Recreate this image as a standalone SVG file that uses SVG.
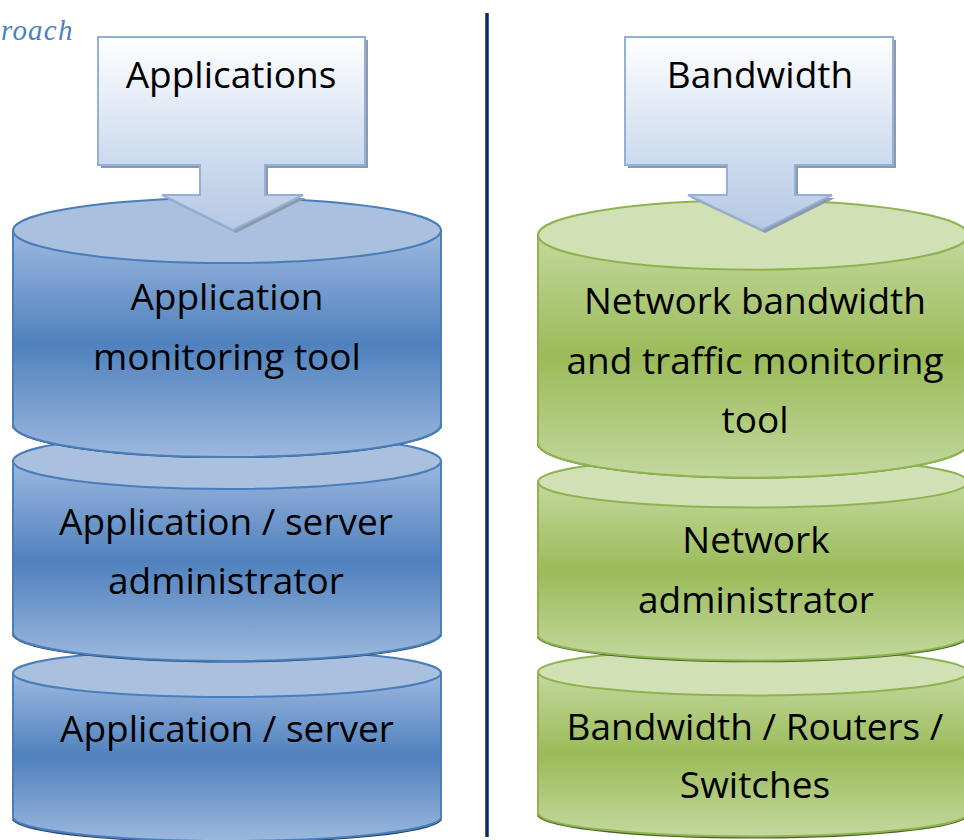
<svg xmlns="http://www.w3.org/2000/svg" width="964" height="840" viewBox="0 0 964 840">
<defs>
<linearGradient id="blueSide" x1="0" y1="0" x2="0" y2="1">
<stop offset="0" stop-color="#9db8e0"/>
<stop offset="0.5" stop-color="#4f81bd"/>
<stop offset="1" stop-color="#9cb8de"/>
</linearGradient>
<linearGradient id="greenSide" x1="0" y1="0" x2="0" y2="1">
<stop offset="0" stop-color="#c3d89d"/>
<stop offset="0.5" stop-color="#9bbb59"/>
<stop offset="1" stop-color="#c3d89e"/>
</linearGradient>
<linearGradient id="arrowFill" gradientUnits="userSpaceOnUse" x1="0" y1="37" x2="0" y2="230">
<stop offset="0" stop-color="#ffffff"/>
<stop offset="0.65" stop-color="#cbdaee"/>
<stop offset="1" stop-color="#b6c9e3"/>
</linearGradient>
</defs>
<style>
.txt{font-family:"Open Sans","Liberation Sans",sans-serif;font-size:37px;fill:#000;text-anchor:middle}
.bside{fill:url(#blueSide);stroke:#4a7ebb;stroke-width:2}
.btop{fill:#a9c0df;stroke:#4a7ebb;stroke-width:2}
.bshadow{fill:none;stroke:#24416a;stroke-width:3.5;stroke-linecap:round}
.gside{fill:url(#greenSide);stroke:#8db450;stroke-width:2}
.gtop{fill:#d2e1b5;stroke:#8db450;stroke-width:2}
.gshadow{fill:none;stroke:#4c6326;stroke-width:3.5;stroke-linecap:round}
.arrow{fill:url(#arrowFill);stroke:#93b0d6;stroke-width:2}
.ashadow{fill:#8e9aab}
</style>
<rect width="964" height="840" fill="#ffffff"/>
<text x="1" y="40" font-family="'Liberation Serif',serif" font-style="italic" font-size="29" letter-spacing="1.2" fill="#4f7fbf">roach</text>
<line x1="487" y1="13" x2="487" y2="837" stroke="#0f2662" stroke-width="3.5"/>

<g id="left-server">
<path class="bshadow" d="M14,819.5 A214,24 0 0 0 440,819.5"/>
<path class="bside" d="M13,673 V817 A214,24 0 0 0 441,817 V673 Z"/>
<ellipse class="btop" cx="227" cy="673" rx="214" ry="24"/>
<text class="txt" x="227" y="742">Application / server</text>
</g>
<g id="left-admin">
<path class="bshadow" d="M14,635.5 A214,28 0 0 0 440,635.5"/>
<path class="bside" d="M13,461 V633 A214,28 0 0 0 441,633 V461 Z"/>
<ellipse class="btop" cx="227" cy="461" rx="214" ry="28"/>
<text class="txt" x="226" y="535">Application / server</text>
<text class="txt" x="226" y="594">administrator</text>
</g>
<g id="left-tool">
<path class="bshadow" d="M14,427 A214,32.5 0 0 0 440,427"/>
<path class="bside" d="M13,230.5 V424.5 A214,32.5 0 0 0 441,424.5 V230.5 Z"/>
<ellipse class="btop" cx="227" cy="230.5" rx="214" ry="32.5"/>
<text class="txt" x="227" y="310">Application</text>
<text class="txt" x="227" y="370">monitoring tool</text>
</g>

<g id="right-devices">
<path class="gshadow" d="M539,815.5 A215,23.5 0 0 0 967,815.5"/>
<path class="gside" d="M538,672 V813 A215,23.5 0 0 0 968,813 V672 Z"/>
<ellipse class="gtop" cx="753" cy="672" rx="215" ry="23.5"/>
<text class="txt" x="755" y="740">Bandwidth / Routers /</text>
<text class="txt" x="755" y="798">Switches</text>
</g>
<g id="right-admin">
<path class="gshadow" d="M539,637.5 A215,25.5 0 0 0 967,637.5"/>
<path class="gside" d="M538,482 V635 A215,25.5 0 0 0 968,635 V482 Z"/>
<ellipse class="gtop" cx="753" cy="482" rx="215" ry="25.5"/>
<text class="txt" x="756" y="553">Network</text>
<text class="txt" x="756" y="613">administrator</text>
</g>
<g id="right-tool">
<path class="gshadow" d="M539,445.5 A215,34.7 0 0 0 967,445.5"/>
<path class="gside" d="M538,235 V443 A215,34.7 0 0 0 968,443 V235 Z"/>
<ellipse class="gtop" cx="753" cy="235" rx="215" ry="34.7"/>
<text class="txt" x="755" y="314">Network bandwidth</text>
<text class="txt" x="755" y="374">and traffic monitoring</text>
<text class="txt" x="755" y="433">tool</text>
</g>

<g id="connectors">
<g id="arrow-applications">
<path class="ashadow" d="M101,40 H368 V168 H268 V198 H306 L236,233 L165,198 H203 V168 H101 Z"/>
<path class="arrow" d="M98,37 H365 V165 H265 V195 H303 L233,230 L162,195 H200 V165 H98 Z"/>
<text class="txt" x="231" y="88">Applications</text>
</g>
<g id="arrow-bandwidth">
<path class="ashadow" d="M628,40 H896 V168 H798 V198 H835 L765,233 L691,198 H730 V168 H628 Z"/>
<path class="arrow" d="M625,37 H893 V165 H795 V195 H832 L762,230 L688,195 H727 V165 H625 Z"/>
<text class="txt" x="760" y="88">Bandwidth</text>
</g>
</g>
</svg>
